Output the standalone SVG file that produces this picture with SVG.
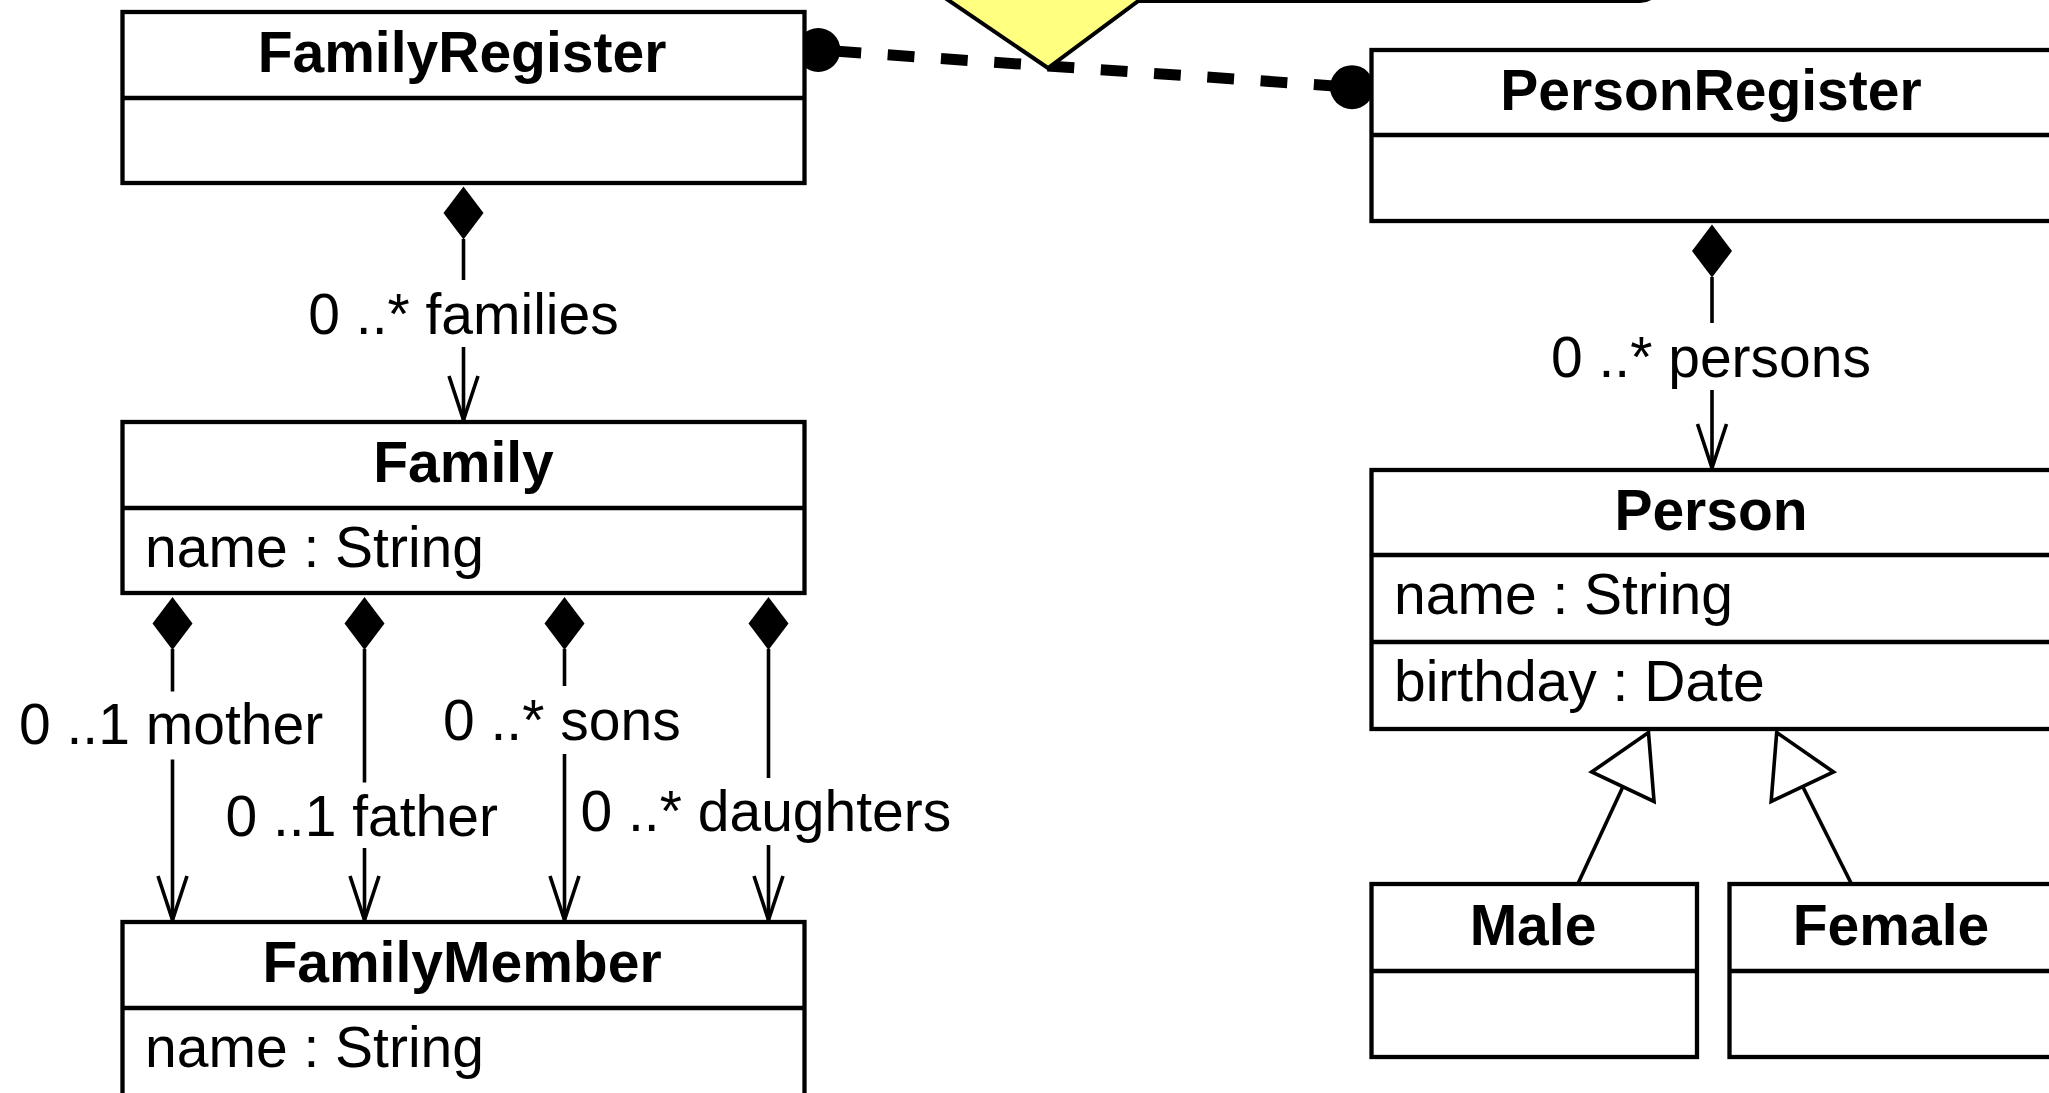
<svg xmlns="http://www.w3.org/2000/svg" width="2049" height="1093" viewBox="0 0 2049 1093" xmlns:xlink="http://www.w3.org/1999/xlink">
<style>
.box{fill:#ffffff;stroke:#000000;stroke-width:4.3}
.sep{stroke:#000000;stroke-width:4.3}
.title{font-family:"Liberation Sans",Arial,Helvetica,sans-serif;font-weight:bold;font-size:57px;text-anchor:middle;fill:#000}
.attr{font-family:"Liberation Sans",Arial,Helvetica,sans-serif;font-size:57px;fill:#000}
.lbl{font-family:"Liberation Sans",Arial,Helvetica,sans-serif;font-size:57px;fill:#000}
.mid{text-anchor:middle}
.edge{stroke:#000000;stroke-width:3.6;fill:none}
.comp{fill:#000000;stroke:none}
.open{stroke:#000000;stroke-width:3.6;fill:none}
.gen{fill:#ffffff;stroke:#000000;stroke-width:3.6}
.dash{stroke:#000000;stroke-width:11;fill:none;stroke-dasharray:26.8 26.6}
.dot{fill:#000000}
.note{fill:#ffffff;stroke:#000000;stroke-width:4}
.nary{fill:#ffff80;stroke:#000000;stroke-width:4;stroke-linejoin:miter}
</style>
<defs>
<path id="diamond" d="M0,0 L20,26.5 L0,53 L-20,26.5 Z"/>
<path id="arrow" d="M-14.5,-44 L0,0 L14.5,-44"/>
<path id="tri" d="M0,0 L-34.5,60 L34.5,60 Z"/>
</defs>

<g id="note">
<rect class="note" x="1000" y="-300" width="660" height="301" rx="20" ry="20"/>
</g>

<g id="connectors">
<!-- dashed n-ary link -->
<line class="dash" x1="834.4" y1="51.1" x2="1352" y2="87.2"/>
<circle class="dot" cx="818.3" cy="50" r="22"/>
<circle class="dot" cx="1352" cy="87.2" r="22"/>

<!-- FamilyRegister -> Family -->
<use xlink:href="#diamond" class="comp" x="463.5" y="186.5"/>
<line class="edge" x1="463.5" y1="239" x2="463.5" y2="280"/>
<line class="edge" x1="463.5" y1="347" x2="463.5" y2="420"/>
<use xlink:href="#arrow" class="open" x="463.5" y="420"/>
<text class="lbl mid" x="463.5" y="333.5">0 ..* families</text>

<!-- PersonRegister -> Person -->
<use xlink:href="#diamond" class="comp" x="1712" y="224.5"/>
<line class="edge" x1="1712" y1="277" x2="1712" y2="323"/>
<line class="edge" x1="1712" y1="390" x2="1712" y2="468"/>
<use xlink:href="#arrow" class="open" x="1712" y="468"/>
<text class="lbl mid" x="1711" y="377">0 ..* persons</text>

<!-- Family -> FamilyMember: mother -->
<use xlink:href="#diamond" class="comp" x="172.5" y="597"/>
<line class="edge" x1="172.5" y1="649" x2="172.5" y2="691.5"/>
<line class="edge" x1="172.5" y1="759.5" x2="172.5" y2="920"/>
<use xlink:href="#arrow" class="open" x="172.5" y="920"/>
<text class="lbl" x="19" y="744">0 ..1 mother</text>

<!-- father -->
<use xlink:href="#diamond" class="comp" x="364.5" y="597"/>
<line class="edge" x1="364.5" y1="649" x2="364.5" y2="782.5"/>
<line class="edge" x1="364.5" y1="848" x2="364.5" y2="920"/>
<use xlink:href="#arrow" class="open" x="364.5" y="920"/>
<text class="lbl" x="225.5" y="836">0 ..1 father</text>

<!-- sons -->
<use xlink:href="#diamond" class="comp" x="564.5" y="597"/>
<line class="edge" x1="564.5" y1="649" x2="564.5" y2="686"/>
<line class="edge" x1="564.5" y1="754" x2="564.5" y2="920"/>
<use xlink:href="#arrow" class="open" x="564.5" y="920"/>
<text class="lbl" x="443" y="740">0 ..* sons</text>

<!-- daughters -->
<use xlink:href="#diamond" class="comp" x="768.5" y="597"/>
<line class="edge" x1="768.5" y1="649" x2="768.5" y2="778"/>
<line class="edge" x1="768.5" y1="845" x2="768.5" y2="920"/>
<use xlink:href="#arrow" class="open" x="768.5" y="920"/>
<text class="lbl" x="580.5" y="831">0 ..* daughters</text>

<!-- generalizations -->
<line class="edge" x1="1622.9" y1="786.7" x2="1577.8" y2="884"/>
<use xlink:href="#tri" class="gen" transform="translate(1648.5,732.5) rotate(25.3)"/>
<line class="edge" x1="1802.8" y1="786.7" x2="1851.5" y2="884"/>
<use xlink:href="#tri" class="gen" transform="translate(1776.7,732.5) rotate(-25.3)"/>
</g>

<g id="nary">
<polygon class="nary" points="1048,68 904,-30 1045,-130 1180,-30"/>
</g>

<g id="FamilyRegister">
<rect class="box" x="122.5" y="12" width="682" height="171"/>
<line class="sep" x1="122.5" y1="98" x2="804.5" y2="98"/>
<text class="title" x="462" y="72">FamilyRegister</text>
</g>

<g id="PersonRegister">
<rect class="box" x="1371.5" y="50" width="681" height="171"/>
<line class="sep" x1="1371.5" y1="135" x2="2052.5" y2="135"/>
<text class="title" x="1711" y="110">PersonRegister</text>
</g>

<g id="Family">
<rect class="box" x="122.5" y="422" width="682" height="171"/>
<line class="sep" x1="122.5" y1="508" x2="804.5" y2="508"/>
<text class="title" x="463.5" y="482">Family</text>
<text class="attr" x="145" y="567">name : String</text>
</g>

<g id="FamilyMember">
<rect class="box" x="122.5" y="922" width="682" height="176"/>
<line class="sep" x1="122.5" y1="1008" x2="804.5" y2="1008"/>
<text class="title" x="462" y="982">FamilyMember</text>
<text class="attr" x="145" y="1067">name : String</text>
</g>

<g id="Person">
<rect class="box" x="1371.5" y="470" width="681" height="259"/>
<line class="sep" x1="1371.5" y1="555" x2="2052.5" y2="555"/>
<line class="sep" x1="1371.5" y1="642" x2="2052.5" y2="642"/>
<text class="title" x="1711" y="530">Person</text>
<text class="attr" x="1394" y="614">name : String</text>
<text class="attr" x="1394" y="701">birthday : Date</text>
</g>

<g id="Male">
<rect class="box" x="1371.5" y="884" width="325.5" height="173"/>
<line class="sep" x1="1371.5" y1="971" x2="1697" y2="971"/>
<text class="title" x="1533" y="945">Male</text>
</g>

<g id="Female">
<rect class="box" x="1729.5" y="884" width="323" height="173"/>
<line class="sep" x1="1729.5" y1="971" x2="2052.5" y2="971"/>
<text class="title" x="1891" y="945">Female</text>
</g>
</svg>
